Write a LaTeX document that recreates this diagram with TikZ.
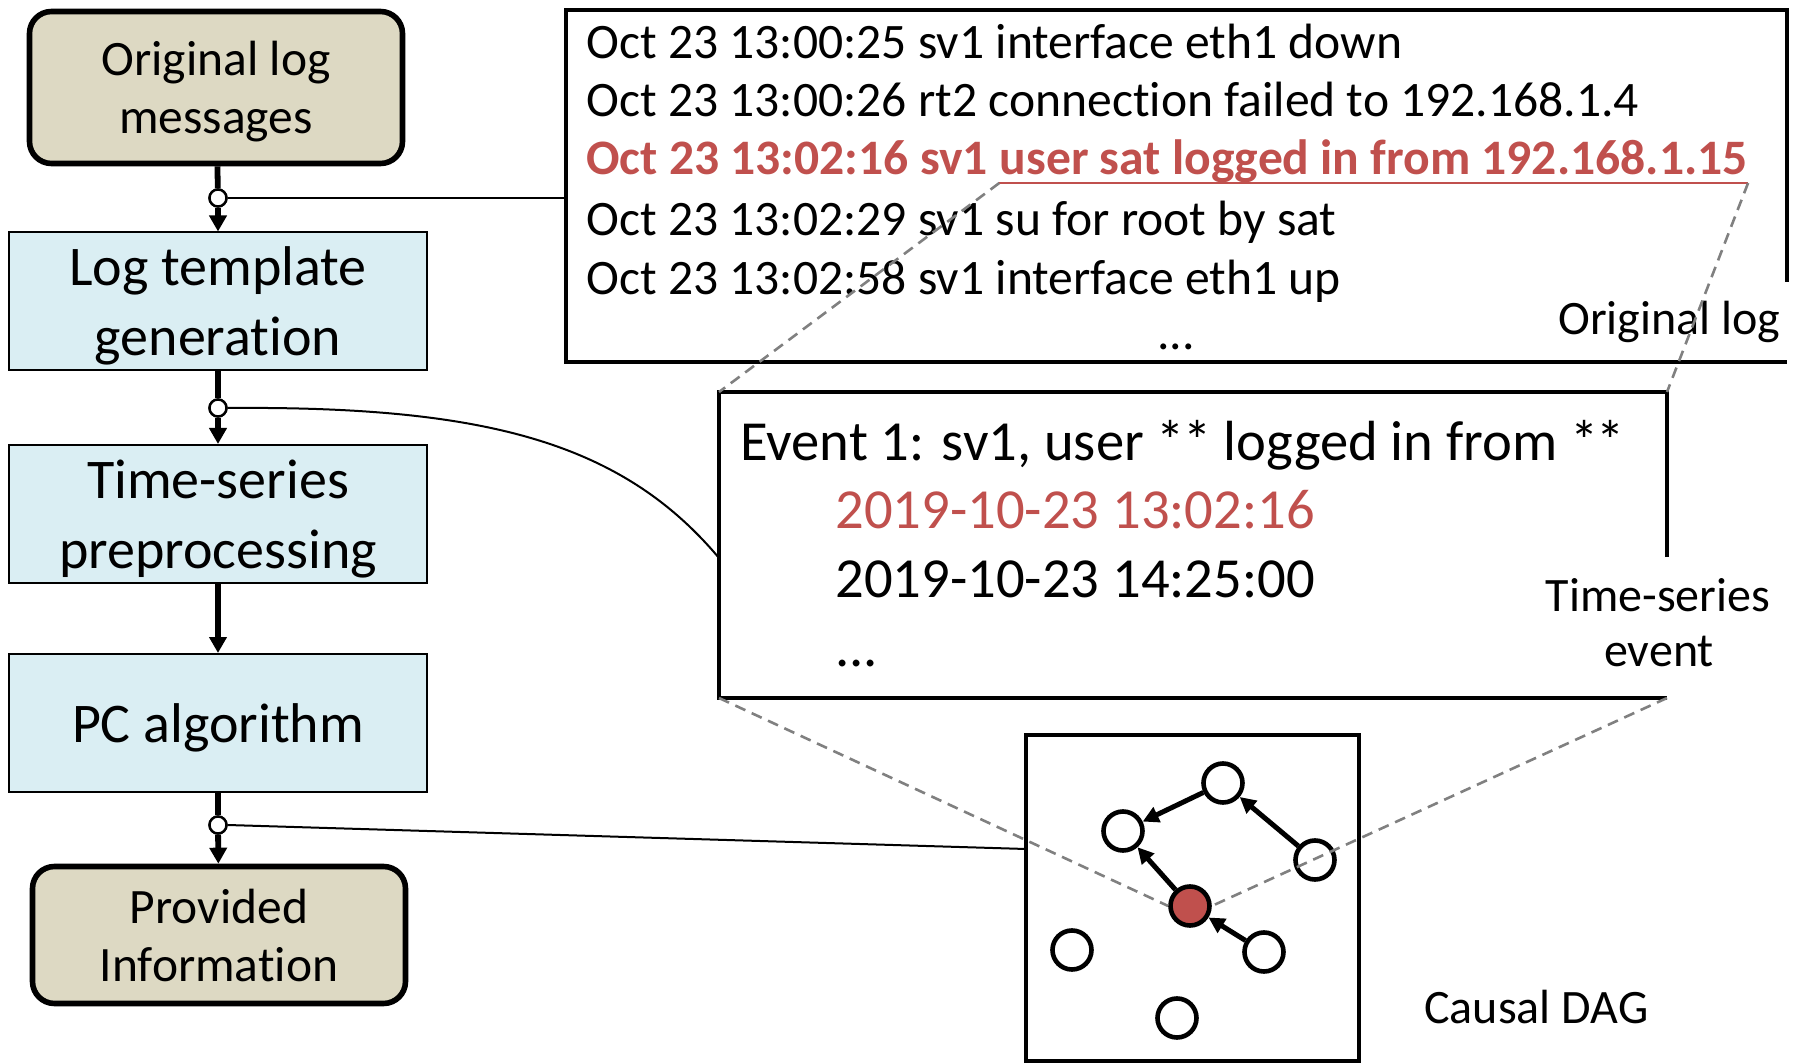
\documentclass[tikz,border=0pt]{standalone}
\usepackage{fontspec}
\setmainfont{Carlito}[Ligatures=NoCommon]
\usetikzlibrary{arrows.meta,calc}
\definecolor{tanfill}{HTML}{DDD9C3}
\definecolor{bluefill}{HTML}{DAEEF3}
\definecolor{accentred}{HTML}{C0504D}
\definecolor{lensgray}{HTML}{808080}
% fixed line extents so the box labels sit at the same height in every box
\newcommand{\procup}{\rule{0pt}{26pt}}
\newcommand{\procdown}{\rule[-7pt]{0pt}{0pt}}
\newcommand{\termup}{\rule{0pt}{23pt}}
\newcommand{\termdown}{\rule[-6pt]{0pt}{0pt}}
\newcommand{\wildcard}{*\kern-1pt*}
\begin{document}
\begin{tikzpicture}[x=0.5pt,y=-0.5pt,
  procbox/.style={draw=black, line width=1pt, fill=bluefill, minimum width=209pt,
    minimum height=69pt, align=center, font=\fontsize{28}{35}\selectfont, inner sep=0pt},
  termbox/.style={draw=black, line width=2.8pt, fill=tanfill, rounded corners=11pt,
    minimum width=186.5pt, align=center, font=\fontsize{24.75}{29}\selectfont, inner sep=0pt},
  tap/.style={circle, draw=black, fill=white, line width=1.2pt, minimum size=8.5pt, inner sep=0pt},
  flow/.style={line width=2.9pt, -{Triangle[length=8pt,width=8.5pt]}},
  flowline/.style={line width=2.9pt},
  link/.style={line width=1pt},
  frame/.style={line width=2.3pt},
  area/.style={inner sep=0pt, outer sep=0pt},
  logline/.style={anchor=base west, inner sep=0pt, font=\fontsize{24.8}{30}\selectfont},
  loghot/.style={anchor=base west, inner sep=0pt, text=accentred, font=\fontsize{24.8}{30}\selectfont\bfseries},
  evline/.style={anchor=base west, inner sep=0pt, font=\fontsize{28.3}{34}\selectfont},
  caption/.style={anchor=base west, inner sep=0pt, font=\fontsize{24}{29}\selectfont},
  dagnode/.style={circle, draw=black, line width=2.3pt, fill=white, minimum size=19.5pt, inner sep=0pt},
  dagedge/.style={line width=2.5pt, -{Triangle[length=8pt,width=8pt]}},
  lens/.style={draw=lensgray, line width=1.3pt, dash pattern=on 5.5pt off 3.5pt},
]
\useasboundingbox (0,0) rectangle (1796,1064);

% processing pipeline
\node[termbox, minimum height=76pt] (orig) at (216,87.5) {\termup Original log\\messages\termdown};
\node[procbox] (tmpl) at (218,301.5) {\procup Log template\\generation\procdown};
\node[procbox] (ts) at (218,514) {\procup Time-series\\preprocessing\procdown};
\node[procbox] (pc) at (218,723) {\procup PC algorithm\procdown};
\node[termbox, minimum height=68.5pt] (prov) at (219,935) {\termup Provided\\Information\termdown};

\node[tap] (c1) at (218,198) {};
\node[tap] (c2) at (218,408) {};
\node[tap] (c3) at (218,825) {};

\draw[flowline] (orig) -- (c1);
\draw[flow] (c1) -- (tmpl);
\draw[flowline] (tmpl) -- (c2);
\draw[flow] (c2) -- (ts);
\draw[flow] (ts) -- (pc);
\draw[flowline] (pc) -- (c3);
\draw[flow] (c3) -- (prov);
\node[tap] at (c1) {};
\node[tap] at (c2) {};
\node[tap] at (c3) {};

% raw log panel
\node[area, minimum width=610.5pt, minimum height=176pt] (logbox) at (1176.5,186) {};
\coordinate (logcut) at (1787,282);
\draw[frame] (logcut) -- (logbox.north east) -- (logbox.north west)
  -- (logbox.south west) -- (logbox.south east);

\node[logline] (l1) at (586,59) {Oct 23 13:00:25 sv1 interface eth1 down};
\node[logline] (l2) at (586,117) {Oct 23 13:00:26 rt2 connection failed to 192.168.1.4};
\node[loghot] (l3a) at (586,175) {Oct 23 13:02:16 sv1};
\node[loghot] (l3b) at ([xshift=5.6pt]l3a.base east) {user sat logged in from 192.168.1.15};
\node[logline] (l4) at (586,236) {Oct 23 13:02:29 sv1 su for root by sat};
\node[logline] (l5) at (586,295) {Oct 23 13:02:58 sv1 interface eth1 up};
\node[logline, anchor=base] (l6) at (1176,350) {...};
\node[caption] (caplog) at (1558,335) {Original log};

\coordinate (ulL) at ([yshift=-4pt]l3b.base west);
\coordinate (ulR) at ([yshift=-4pt]l3b.base east);
\draw[accentred, line width=1pt] (ulL) -- (ulR);

% time-series event panel
\node[area, minimum width=474pt, minimum height=153pt] (evbox) at (1193,545) {};
\coordinate (evcut) at (1667,557);
\draw[frame] (evcut) -- (evbox.north east) -- (evbox.north west)
  -- (evbox.south west) -- (evbox.south east);

\node[evline] (e1) at (740,460) {Event 1: sv1, user \wildcard{} logged in from \wildcard};
\node[evline, text=accentred] (e2) at (835,529) {2019-10-23 13:02:16};
\node[evline] (e3) at (835,597) {2019-10-23 14:25:00};
\node[evline] (e4) at (835,666) {...};
\node[caption, anchor=base] (capts1) at (1658,611) {Time-series};
\node[caption, anchor=base] (capts2) at (1659,666) {event};

% causal graph panel
\node[area, draw=black, frame, minimum width=166.5pt, minimum height=163pt] (dag) at (1192.5,898) {};
\node[caption] (capdag) at (1424,1023) {Causal DAG};

\node[dagnode] (n1) at (1223,783) {};
\node[dagnode] (n2) at (1123,831) {};
\node[dagnode] (n3) at (1315,860) {};
\node[dagnode, fill=accentred] (n4) at (1190,906) {};
\node[dagnode] (n5) at (1264,952) {};
\node[dagnode] (n6) at (1072,950) {};
\node[dagnode] (n7) at (1177,1018) {};

\draw[dagedge] (n1) -- (n2);
\draw[dagedge] (n3) -- (n1);
\draw[dagedge] (n4) -- (n2);
\draw[dagedge] (n5) -- (n4);

% taps from the pipeline to the panels
\coordinate (evin) at (719,558);
\coordinate (dagin) at (1026,849);
\draw[link] (c1.east) -- (c1 -| logbox.west);
\draw[link] (c2.east) .. controls (480,406) and (620,440) .. (evin);
\draw[link] (c3.east) -- (dagin);

% zoom lenses
\draw[lens] (ulL) -- (evbox.north west);
\draw[lens] (ulR) -- (evbox.north east);
\draw[lens] (evbox.south west) -- (n4.west);
\draw[lens] (evbox.south east) -- (n4.east);
\end{tikzpicture}
\end{document}
